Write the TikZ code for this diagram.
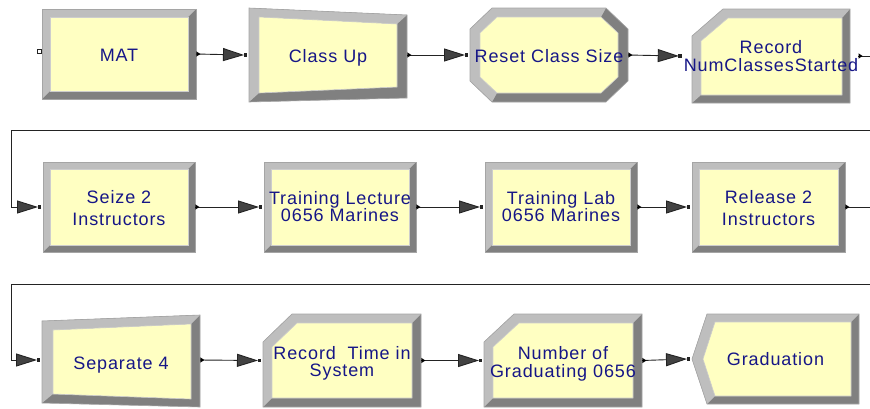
\documentclass[tikz,border=0pt]{standalone}
\usepackage{fontspec}
\newfontfamily\modfont{Liberation Sans}[LetterSpace=5.0]
\usetikzlibrary{arrows.meta}

\definecolor{face}{RGB}{255,255,194}
\definecolor{facerim}{RGB}{205,205,205}
\definecolor{bevlite}{RGB}{190,190,190}
\definecolor{bevdark}{RGB}{128,128,128}
\definecolor{rim}{RGB}{165,165,165}
\definecolor{ink}{RGB}{22,22,135}
\definecolor{wire}{RGB}{35,35,35}
\definecolor{tipgray}{RGB}{66,66,66}

\newcommand\modtext{\modfont\fontsize{18}{18}\selectfont}
% one-line label lowered so that its baseline sits #1 below the node centre
\newcommand\lbl[2]{\raisebox{-#1pt}{#2}}
% two-line label: #1 = baseline of the last line below the centre, #2 = line pitch
\newcommand\lblii[4]{\raisebox{-#1pt}{\vbox{\baselineskip=#2pt\lineskiplimit=-30pt\halign{\hfil##\hfil\cr#3\cr#4\cr}}}}

% bevelled module body: #1 outline, #2 lit (top/left) band, #3 face
\newcommand\bevel[3]{%
  \fill[bevdark] #1 -- cycle;
  \fill[bevlite] #2 -- cycle;
  \filldraw[fill=face, draw=facerim, line width=0.6pt] #3 -- cycle;
  \draw[rim, line width=0.6pt] #1 -- cycle;}
% rectangular body: corners (#1,#2)-(#3,#4), bevel width #5
\newcommand\bevrect[5]{%
  \bevel{(#1,#2) -- (#3,#2) -- (#3,#4) -- (#1,#4)}
        {(#1,#4) -- (#1,#2) -- (#3,#2) -- (#3-#5,#2+#5) -- (#1+#5,#2+#5) -- (#1+#5,#4-#5)}
        {(#1+#5,#2+#5) -- (#3-#5,#2+#5) -- (#3-#5,#4-#5) -- (#1+#5,#4-#5)}}

% connection points
\newcommand\inport[1]{\fill[wire] ([xshift=-3.5pt]#1.west) ++(-1.8pt,-1.8pt) rectangle ++(3.6pt,3.6pt);}
\newcommand\outport[1]{\fill[black] (#1.east) ++(0.4pt,-2.6pt) -- ++(4pt,2.6pt) -- ++(-4pt,2.6pt) -- cycle;}

\tikzset{
  mod/.style={inner sep=0pt, outer sep=0pt, text height=0pt, text depth=0pt,
    text=ink, font=\modtext},
  flow/.style={draw=wire, line width=0.9pt,
    -{Triangle[length=21pt,width=13pt,fill=tipgray]}},
}

\begin{document}
\begin{tikzpicture}[x=1pt,y=-1pt]
\useasboundingbox (0,0) rectangle (870,408);
\clip (0,0) rectangle (870,408);
\fill[white] (0,0) rectangle (870,408);

% ---------- row 1 ----------
\bevrect{42}{9}{196}{99}{8}
\bevel{(249,8) -- (407,15) -- (407,98) -- (249,102)}
      {(249,102) -- (249,8) -- (407,15) -- (397,24) -- (259,17) -- (259,93)}
      {(259,17) -- (397,24) -- (397,87) -- (259,93)}
\bevel{(492,8) -- (606,8) -- (628,29) -- (628,81) -- (606,102) -- (492,102) -- (470,81) -- (470,29)}
      {(492,102) -- (470,81) -- (470,29) -- (492,8) -- (606,8) -- (601,17) -- (497,17) -- (480,33) -- (480,77) -- (497,93)}
      {(497,17) -- (601,17) -- (618,33) -- (618,77) -- (601,93) -- (497,93) -- (480,77) -- (480,33)}
\bevel{(723,9) -- (850,9) -- (850,103) -- (692,103) -- (692,36)}
      {(692,103) -- (692,36) -- (723,9) -- (850,9) -- (842,18) -- (728,18) -- (701,41) -- (701,95)}
      {(728,18) -- (842,18) -- (842,95) -- (701,95) -- (701,41)}

\node[mod, minimum width=154pt, minimum height=90pt] (mat) at (119,54) {\lbl{7.5}{MAT}};
\node[mod, minimum width=158pt, minimum height=94pt] (cup) at (328,55) {\lbl{7}{Class Up}};
\node[mod, minimum width=158pt, minimum height=94pt] (reset) at (549,55) {\lbl{7}{Reset Class Size}};
\node[mod, minimum width=158pt, minimum height=94pt] (rec) at (771,56) {\lblii{15.5}{18}{Record}{NumClassesStarted}};

% ---------- row 2 ----------
\bevrect{43}{162}{195}{252}{7}
\bevrect{264}{162}{416}{252}{7}
\bevrect{485}{162}{637}{252}{7}
\bevrect{692}{162}{845}{252}{7}

\node[mod, minimum width=152pt, minimum height=90pt] (seize) at (119,207) {\lblii{18}{21.5}{Seize 2}{Instructors}};
\node[mod, minimum width=152pt, minimum height=90pt] (lect) at (340,207) {\lblii{14.7}{17.7}{Training Lecture}{0656 Marines}};
\node[mod, minimum width=152pt, minimum height=90pt] (lab) at (561,207) {\lblii{14.7}{17.7}{Training Lab}{0656 Marines}};
\node[mod, minimum width=153pt, minimum height=90pt] (rel) at (768.5,207) {\lblii{18}{21.5}{Release 2}{Instructors}};

% ---------- row 3 ----------
\bevel{(42,321) -- (200,315) -- (200,407) -- (42,403)}
      {(42,403) -- (42,321) -- (200,315) -- (191,324) -- (53,330) -- (53,394)}
      {(53,330) -- (191,324) -- (191,399) -- (53,394)}
\bevel{(292,314) -- (421,314) -- (421,407) -- (263,407) -- (263,342)}
      {(263,407) -- (263,342) -- (292,314) -- (421,314) -- (412,323) -- (297,323) -- (272,347) -- (272,398)}
      {(297,323) -- (412,323) -- (412,398) -- (272,398) -- (272,347)}
\bevel{(514,314) -- (642,314) -- (642,407) -- (484,407) -- (484,342)}
      {(484,407) -- (484,342) -- (514,314) -- (642,314) -- (633,323) -- (519,323) -- (493,347) -- (493,398)}
      {(519,323) -- (633,323) -- (633,398) -- (493,398) -- (493,347)}
\bevel{(707,314) -- (859,314) -- (859,404) -- (707,404) -- (692,359)}
      {(707,404) -- (692,359) -- (707,314) -- (859,314) -- (851,322) -- (715,322) -- (703,359) -- (715,396)}
      {(715,322) -- (851,322) -- (851,396) -- (715,396) -- (703,359)}

\node[mod, minimum width=158pt, minimum height=92pt] (sep) at (121,360) {\lbl{9}{Separate 4}};
\node[mod, minimum width=158pt, minimum height=93pt] (rtime) at (342,360.5) {\lblii{16.2}{17.7}{Record\ \ Time in}{System}};
\node[mod, minimum width=158pt, minimum height=93pt] (ngrad) at (563,360.5) {\lblii{16.8}{18}{Number of}{Graduating 0656}};
\node[mod, minimum width=167pt, minimum height=90pt] (grad) at (775.5,359) {\lbl{6.7}{Graduation}};

% ---------- connections ----------
\coordinate (turnA) at (885,130);
\coordinate (backA) at (11,130);
\coordinate (turnB) at (885,284);
\coordinate (backB) at (11,284);

\draw[flow] (mat.east) -- ([xshift=-5pt]cup.west);
\draw[flow] (cup.east) -- ([xshift=-5pt]reset.west);
\draw[flow] (reset.east) -- ([xshift=-5pt]rec.west);
\draw[flow] (rec.east) -| (turnA) -- (backA) |- ([xshift=-5pt]seize.west);
\draw[flow] (seize.east) -- ([xshift=-5pt]lect.west);
\draw[flow] (lect.east) -- ([xshift=-5pt]lab.west);
\draw[flow] (lab.east) -- ([xshift=-5pt]rel.west);
\draw[flow] (rel.east) -| (turnB) -- (backB) |- ([xshift=-5pt]sep.west);
\draw[flow] (sep.east) -- ([xshift=-5pt]rtime.west);
\draw[flow] (rtime.east) -- ([xshift=-5pt]ngrad.west);
\draw[flow] (ngrad.east) -- ([xshift=-5pt]grad.west);

\foreach \m in {cup,reset,rec,seize,lect,lab,rel,sep,rtime,ngrad,grad} {\inport{\m}}
\foreach \m in {mat,cup,reset,rec,seize,lect,lab,rel,sep,rtime,ngrad} {\outport{\m}}
% unused entry point of the arrival module
\filldraw[fill=white, draw=wire, line width=0.6pt] ([shift={(-3pt,2.5pt)}]mat.west) ++(-1.8pt,-1.8pt) rectangle ++(3.6pt,3.6pt);
\end{tikzpicture}
\end{document}
